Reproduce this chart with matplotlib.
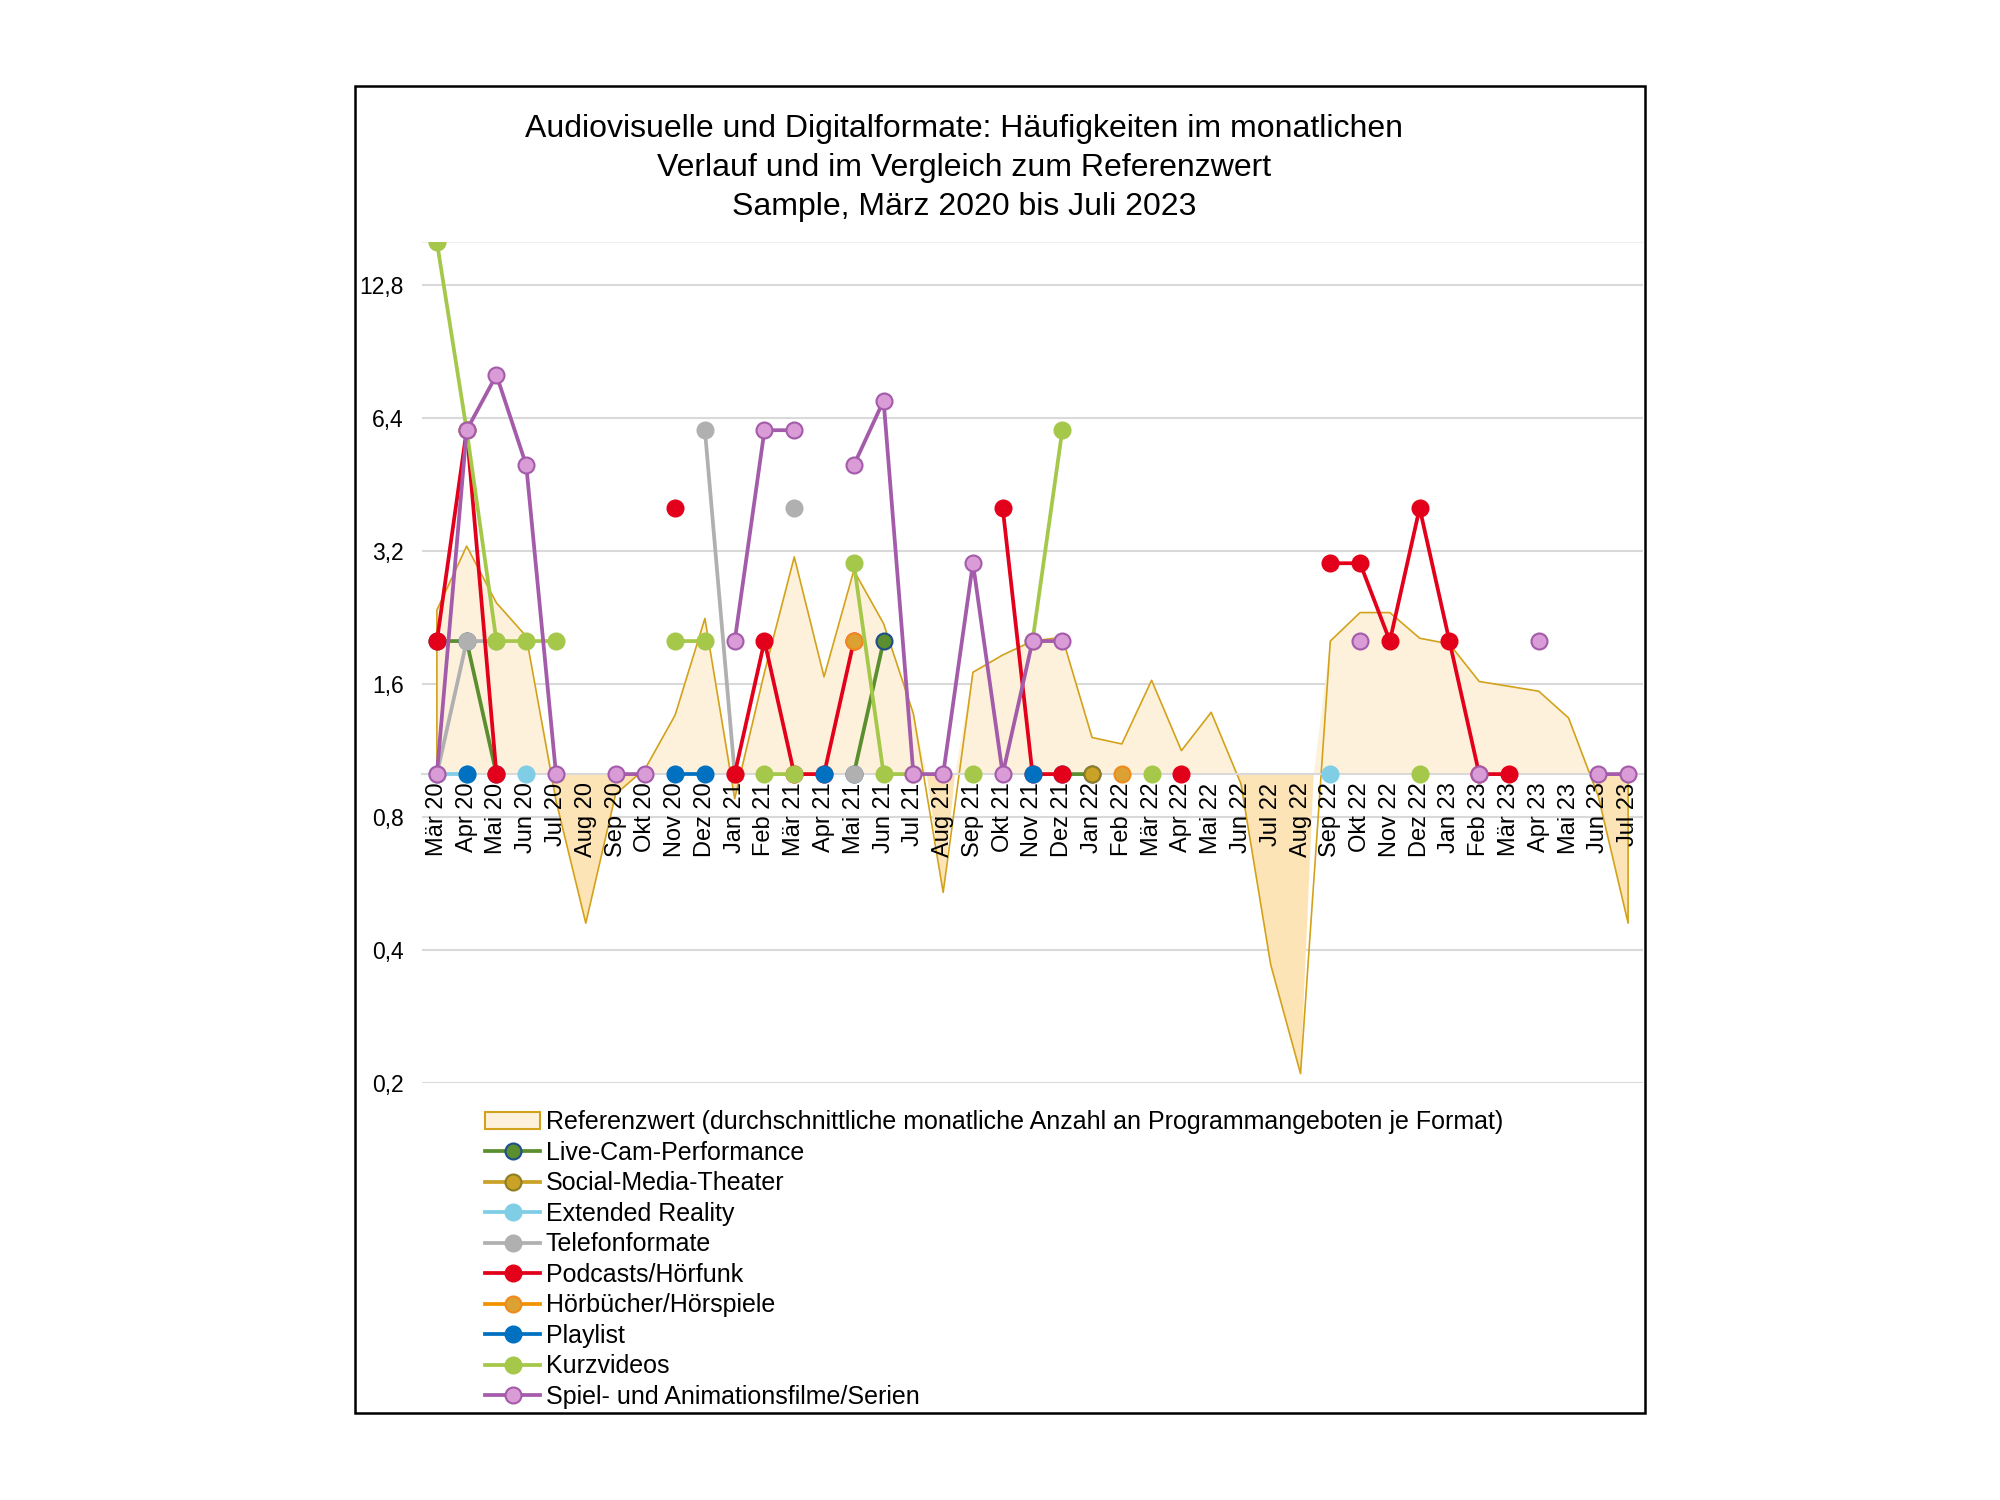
import numpy as np
import matplotlib
matplotlib.use("Agg")
import matplotlib.pyplot as plt
from matplotlib.patches import Patch, Rectangle

plt.rcParams['font.family'] = ['Liberation Sans', 'DejaVu Sans']

N = None

months = ["Mär 20", "Apr 20", "Mai 20", "Jun 20", "Jul 20", "Aug 20", "Sep 20", "Okt 20", "Nov 20", "Dez 20",
          "Jan 21", "Feb 21", "Mär 21", "Apr 21", "Mai 21", "Jun 21", "Jul 21", "Aug 21", "Sep 21", "Okt 21", "Nov 21", "Dez 21",
          "Jan 22", "Feb 22", "Mär 22", "Apr 22", "Mai 22", "Jun 22", "Jul 22", "Aug 22", "Sep 22", "Okt 22", "Nov 22", "Dez 22",
          "Jan 23", "Feb 23", "Mär 23", "Apr 23", "Mai 23", "Jun 23", "Jul 23"]

# Referenzwert (durchschnittliche monatliche Anzahl)
referenz = [2.35, 3.28, 2.44, 2.05, 0.87, 0.46, 0.90, 1.03, 1.36, 2.25,
            0.88, 1.70, 3.10, 1.66, 2.89, 2.19, 1.37, 0.54, 1.70, 1.86, 2.00, 2.04,
            1.21, 1.17, 1.63, 1.13, 1.38, 0.95, 0.37, 0.21, 2.00, 2.32, 2.32, 2.03,
            1.97, 1.62, 1.58, 1.54, 1.34, 0.89, 0.46]

live_cam = [2, 2, 1, N, N, N, N, N, N, N,
            N, N, N, N, 1, 2, N, N, N, N, N, 1,
            1, N, N, N, N, N, N, N, N, N, N, N,
            N, N, N, N, N, N, N]

social_media = [N, N, N, N, N, N, N, N, N, N,
                N, N, N, N, N, N, N, N, N, N, N, N,
                1, N, N, N, N, N, N, N, N, N, N, N,
                N, N, N, N, N, N, N]

extended_reality = [1, 1, N, 1, N, N, N, N, N, N,
                    N, N, N, N, N, N, N, N, N, N, N, N,
                    N, N, N, N, N, N, N, N, 1, N, N, N,
                    N, N, N, N, N, N, N]

telefon = [1, 2, 2, N, N, N, N, N, N, 6,
           1, N, 4, N, 1, N, N, N, N, N, N, N,
           N, N, N, N, N, N, N, N, N, N, N, N,
           N, N, N, N, N, N, N]

podcasts = [2, 6, 1, N, N, N, N, N, 4, N,
            1, 2, 1, 1, 2, N, N, N, N, 4, 1, 1,
            N, N, N, 1, N, N, N, N, 3, 3, 2, 4,
            2, 1, 1, N, N, N, N]

hoerbuecher = [N, N, N, N, N, N, N, N, N, N,
               N, N, N, N, 2, N, N, N, N, N, N, N,
               N, 1, N, N, N, N, N, N, N, N, N, N,
               N, N, N, N, N, N, N]

playlist = [N, 1, N, N, N, N, N, N, 1, 1,
            N, N, N, 1, N, N, N, N, N, N, 1, N,
            N, N, N, N, N, N, N, N, N, N, N, N,
            N, N, N, N, N, N, N]

kurzvideos = [16, 6, 2, 2, 2, N, N, N, 2, 2,
              N, 1, 1, N, 3, 1, 1, N, 1, N, 2, 6,
              N, N, 1, N, N, N, N, N, N, N, N, 1,
              N, N, N, N, N, N, N]

spiel = [1, 6, 8, 5, 1, N, 1, 1, N, N,
         2, 6, 6, N, 5, 7, 1, 1, 3, 1, 2, 2,
         N, N, N, N, N, N, N, N, N, 2, N, N,
         N, 1, N, 2, N, 1, 1]

y_ticks = [0.2, 0.4, 0.8, 1.6, 3.2, 6.4, 12.8]
y_ticklabels = ["0,2", "0,4", "0,8", "1,6", "3,2", "6,4", "12,8"]

# (label, values, line colour, marker face, marker edge)
series = [
    ("Live-Cam-Performance", live_cam, "#5A8E2E", "#5A8E2E", "#1F4E8C"),
    ("Social-Media-Theater", social_media, "#C9A227", "#C9A227", "#8F7F22"),
    ("Extended Reality", extended_reality, "#80CDE6", "#80CDE6", "#80CDE6"),
    ("Telefonformate", telefon, "#B0B0B0", "#B0B0B0", "#B0B0B0"),
    ("Podcasts/Hörfunk", podcasts, "#E3001B", "#E3001B", "#E3001B"),
    ("Hörbücher/Hörspiele", hoerbuecher, "#F39200", "#DBA233", "#F08A1D"),
    ("Playlist", playlist, "#0070C0", "#0070C0", "#0070C0"),
    ("Kurzvideos", kurzvideos, "#A5C84A", "#A5C84A", "#A5C84A"),
    ("Spiel- und Animationsfilme/Serien", spiel, "#A35BAA", "#DA9CD6", "#A35BAA"),
]

x = np.arange(len(months))
ref = np.array(referenz, dtype=float)

fig = plt.figure(figsize=(20, 15), dpi=100)
ax = fig.add_axes([0.211, 0.278, 0.6105, 0.5607])
ax.set_yscale('log', base=2)
ax.set_ylim(0.2, 16)
ax.set_xlim(-0.5, len(months) - 0.5)

# x axis crosses at 1
ax.spines['bottom'].set_position(('data', 1))
ax.spines['bottom'].set_color("#D9D9D9")
ax.spines['bottom'].set_linewidth(1.5)
ax.spines['left'].set_visible(False)
ax.spines['right'].set_visible(False)
ax.spines['top'].set_color("#EFEFEF")

# Referenzwert area (baseline at 1)
ax.fill_between(x, 1, ref, where=ref >= 1, interpolate=True, color="#FEF1DC", lw=0, zorder=1)
ax.fill_between(x, 1, ref, where=ref <= 1, interpolate=True, color="#FDE4B6", lw=0, zorder=1)
ax.plot(np.r_[x[0], x, x[-1]], np.r_[1, ref, 1], color="#D3A21B", lw=1.2, zorder=2)

for i, (label, vals, lc, mfc, mec) in enumerate(series):
    ax.plot(x, np.array(vals, dtype=float), color=lc, lw=2.7, marker='o', ms=11.5,
            mfc=mfc, mec=mec, mew=1.5, label=label, zorder=3 + i)

ax.set_yticks(y_ticks)
ax.set_yticklabels(y_ticklabels)
ax.yaxis.set_minor_locator(matplotlib.ticker.NullLocator())
ax.set_xticks(x)
ax.set_xticklabels([])
ax.tick_params(axis='both', length=0, labelsize=16.5)
ax.tick_params(axis='y', pad=13)
ax.grid(axis='y', color="#D9D9D9", lw=1.5)
ax.set_axisbelow(True)

# month labels under the axis line, drawn on top of the area
for xi, m in zip(x, months):
    ax.annotate(m, (xi, 1), xytext=(0, -6), textcoords='offset points', rotation=90,
                ha='center', va='top', fontsize=17, zorder=20, annotation_clip=False)

fig.text(0.482, 0.888, "Audiovisuelle und Digitalformate: Häufigkeiten im monatlichen\n"
         "Verlauf und im Vergleich zum Referenzwert\nSample, März 2020 bis Juli 2023",
         ha='center', va='center', fontsize=23, linespacing=1.37)

handles, labels = ax.get_legend_handles_labels()
ref_patch = Patch(facecolor="#FEF1DC", edgecolor="#D3A21B", lw=1.5)
handles = [ref_patch] + handles
labels = ["Referenzwert (durchschnittliche monatliche Anzahl an Programmangeboten je Format)"] + labels
fig.legend(handles, labels, loc='upper left', bbox_to_anchor=(0.2425, 0.2597), frameon=False,
           fontsize=18, handlelength=2.2, handletextpad=0.24, labelspacing=0.26,
           borderpad=0, borderaxespad=0)

fig.patches.append(Rectangle((0.1775, 0.058), 0.645, 0.885, transform=fig.transFigure,
                             fill=False, lw=1.8, ec='black'))

fig.savefig("out.png", dpi=100, facecolor='white')
